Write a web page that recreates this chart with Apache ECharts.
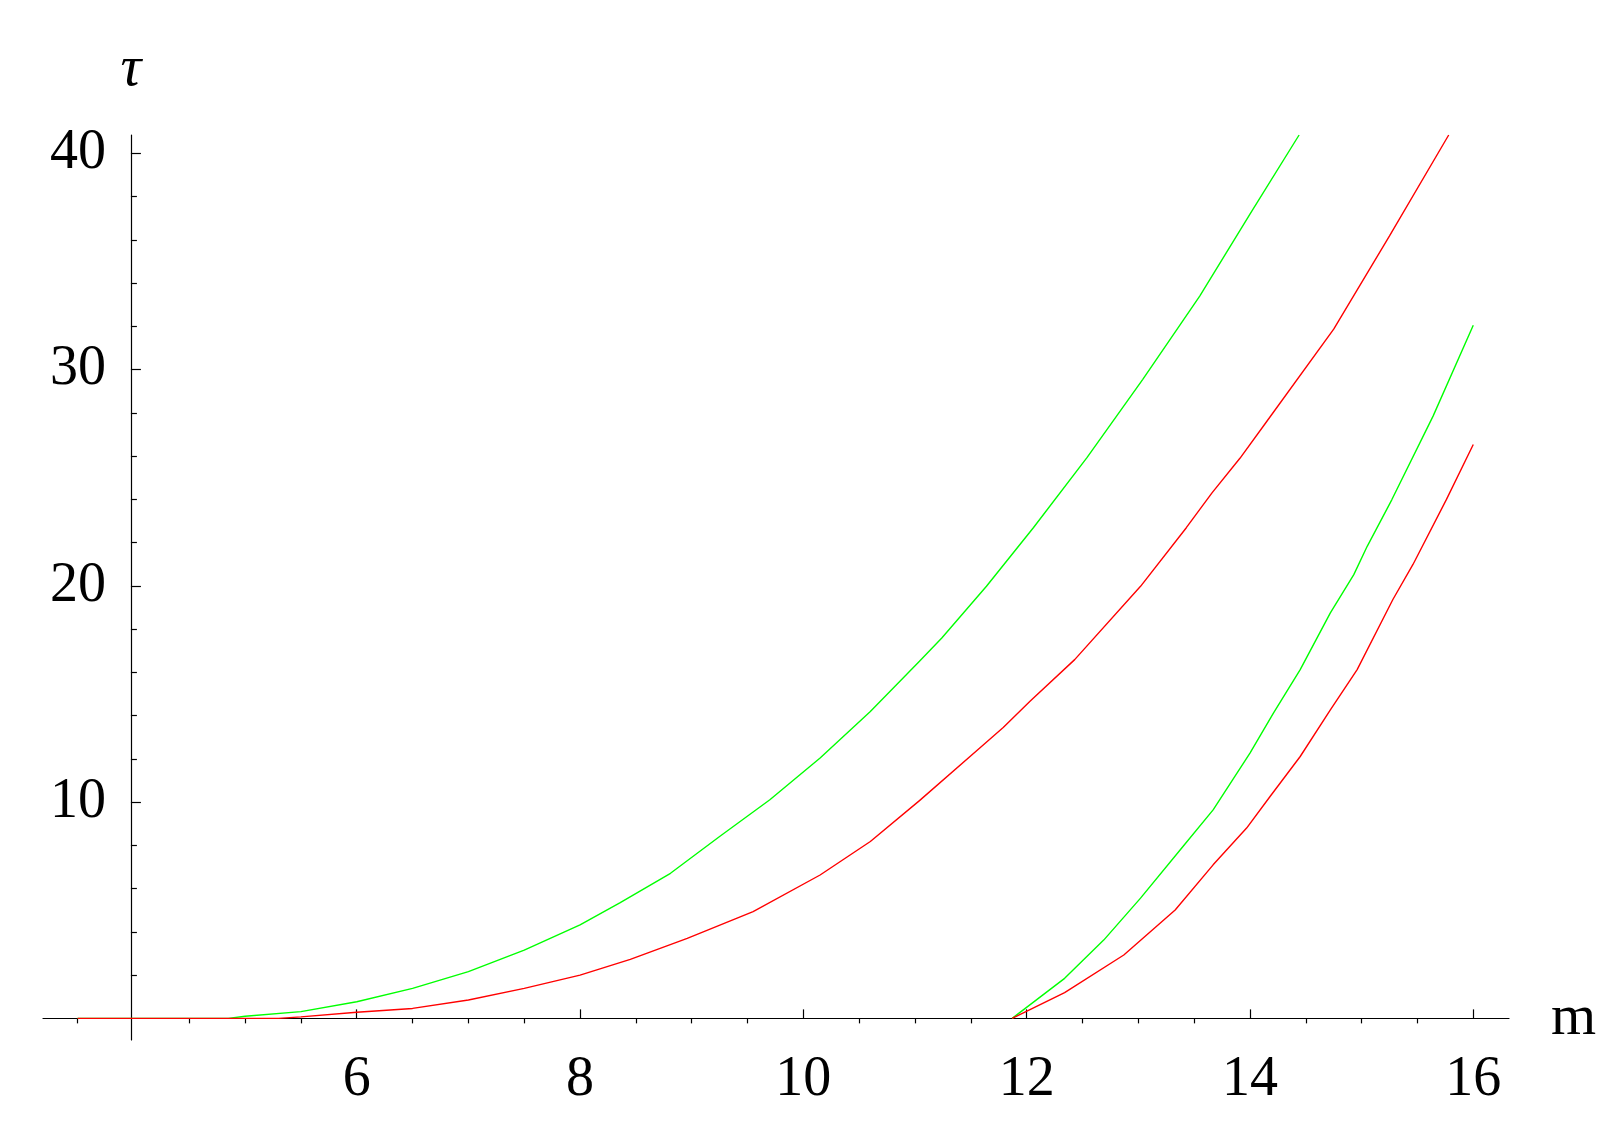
<!DOCTYPE html>
<html>
<head>
<meta charset="utf-8">
<script src="https://cdn.jsdelivr.net/npm/echarts@6/dist/echarts.min.js"></script>
<style>
html,body{margin:0;padding:0;background:#fff;}
#chart{width:1623px;height:1133px;}
</style>
</head>
<body>
<div id="chart"></div>
<script>
// ---- data ----
var green1M = [3.5, 4.85, 5.0, 5.5, 6.0, 6.5, 7.0, 7.5, 8.0, 8.36, 8.81, 9.25, 9.70, 10.15, 10.60, 11.04, 11.24, 11.64, 12.06, 12.54, 13.04, 13.55, 14.0, 14.44];
var green1T = [0, 0, 0.1, 0.31, 0.77, 1.39, 2.16, 3.16, 4.32, 5.35, 6.71, 8.41, 10.11, 12.04, 14.19, 16.51, 17.59, 19.98, 22.69, 25.93, 29.55, 33.4, 37.19, 40.85];

var red1M = [3.5, 5.3, 5.5, 6.0, 6.5, 7.0, 7.5, 8.0, 8.45, 8.96, 9.55, 10.15, 10.60, 11.04, 11.58, 11.79, 12.03, 12.43, 13.02, 13.43, 13.66, 13.91, 14.15, 14.75, 15.25, 15.78];
var red1T = [0, 0, 0.07, 0.28, 0.46, 0.85, 1.39, 2.0, 2.73, 3.70, 4.94, 6.63, 8.18, 10.07, 12.5, 13.45, 14.66, 16.59, 19.98, 22.69, 24.3, 25.9, 27.6, 31.87, 36.19, 40.85];

var green2M = [11.87, 12.34, 12.69, 13.02, 13.40, 13.67, 14.0, 14.21, 14.45, 14.72, 14.93, 15.05, 15.27, 15.64, 16.0];
var green2T = [0, 1.85, 3.62, 5.56, 7.95, 9.64, 12.27, 14.12, 16.13, 18.75, 20.52, 21.83, 23.98, 27.85, 32.05];

var red2M = [11.87, 12.34, 12.87, 13.33, 13.67, 13.97, 14.18, 14.45, 14.72, 14.96, 15.28, 15.46, 15.76, 16.0];
var red2T = [0, 1.19, 2.93, 5.01, 7.10, 8.80, 10.26, 12.11, 14.27, 16.13, 19.37, 20.99, 24.0, 26.54];

var xMajorTicks = [6, 8, 10, 12, 14, 16];
var xMinorTicks = [3.5, 4.5, 5, 5.5, 6.5, 7, 7.5, 8.5, 9, 9.5, 10.5, 11, 11.5, 12.5, 13, 13.5, 14.5, 15, 15.5];
var yMajorTicks = [10, 20, 30, 40];
var yMinorTicks = [2, 4, 6, 8, 12, 14, 16, 18, 22, 24, 26, 28, 32, 34, 36, 38];
var xRange = [3.19, 16.32];
var yRange = [-1.0, 40.85];
var yAxisAt = 4;

function pairs(xs, ys) { return xs.map(function (x, i) { return [x, ys[i]]; }); }

var font = '"Liberation Serif", "Times New Roman", "DejaVu Serif", serif';
var chart = echarts.init(document.getElementById('chart'), null, {renderer: 'canvas'});

function lineSeries(name, xs, ys, color) {
  return {
    name: name, type: 'line', data: pairs(xs, ys),
    showSymbol: false, symbol: 'none', smooth: false,
    lineStyle: {color: color, width: 1.4}, clip: true, z: 3
  };
}

var axisLineStyle = {color: '#000', width: 1.2};

chart.setOption({
  animation: false,
  backgroundColor: '#fff',
  grid: {left: 43, right: 114, top: 135, bottom: 93, containLabel: false},
  xAxis: [
    {
      type: 'value', min: xRange[0], max: xRange[1],
      name: 'm', nameLocation: 'end', nameGap: 42,
      nameTextStyle: {fontFamily: font, fontSize: 58, color: '#000', verticalAlign: 'middle', padding: [10, 0, 0, 0]},
      axisLine: {show: true, onZero: true, lineStyle: axisLineStyle},
      axisTick: {show: true, inside: true, length: 9, customValues: xMajorTicks, lineStyle: axisLineStyle},
      axisLabel: {show: true, customValues: xMajorTicks, margin: 12, fontFamily: font, fontSize: 56, color: '#000'},
      splitLine: {show: false}
    },
    {
      type: 'value', min: xRange[0], max: xRange[1],
      axisLine: {show: false, onZero: true},
      axisTick: {show: true, inside: true, length: 5, customValues: xMinorTicks, lineStyle: axisLineStyle},
      axisLabel: {show: false},
      splitLine: {show: false}
    }
  ],
  yAxis: [
    {
      type: 'value', min: yRange[0], max: yRange[1], position: 'left', offset: 0,
      name: 'τ', nameLocation: 'end', nameGap: 36,
      nameTextStyle: {fontFamily: font, fontSize: 58, fontStyle: 'italic', color: '#000', align: 'center'},
      axisLine: {show: true, onZero: false, lineStyle: axisLineStyle},
      axisTick: {show: true, inside: true, length: 10, customValues: yMajorTicks, lineStyle: axisLineStyle},
      axisLabel: {show: true, customValues: yMajorTicks, margin: 25, fontFamily: font, fontSize: 56, color: '#000'},
      splitLine: {show: false}
    },
    {
      type: 'value', min: yRange[0], max: yRange[1], position: 'left', offset: 0,
      axisLine: {show: false, onZero: false},
      axisTick: {show: true, inside: true, length: 6, customValues: yMinorTicks, lineStyle: axisLineStyle},
      axisLabel: {show: false},
      splitLine: {show: false}
    }
  ],
  series: [
    lineSeries('green upper', green1M, green1T, '#00ff00'),
    lineSeries('green lower', green2M, green2T, '#00ff00'),
    lineSeries('red upper', red1M, red1T, '#ff0000'),
    lineSeries('red lower', red2M, red2T, '#ff0000')
  ]
});

// place the vertical axis where m = 4, using the library's own scale
var pAt = chart.convertToPixel({xAxisIndex: 0}, yAxisAt);
var pMin = chart.convertToPixel({xAxisIndex: 0}, xRange[0]);
var off = -(pAt - pMin);
chart.setOption({yAxis: [{offset: off}, {offset: off}]});
</script>
</body>
</html>
